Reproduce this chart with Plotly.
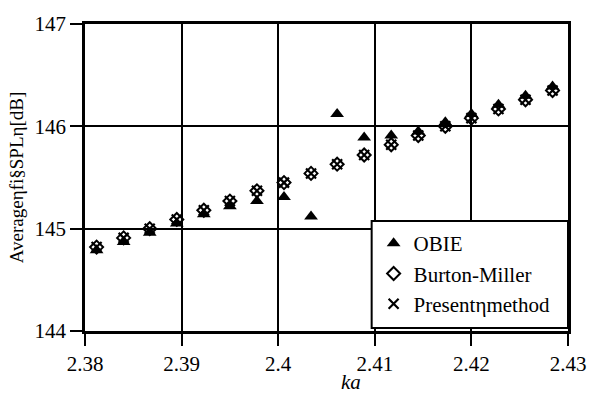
import plotly.graph_objects as go

ka = [2.3812, 2.3840, 2.3867, 2.3895, 2.3923, 2.3950, 2.3978, 2.4006, 2.4034,
      2.4061, 2.4089, 2.4117, 2.4145, 2.4173, 2.4200, 2.4228, 2.4256, 2.4284]
obie = [144.79, 144.87, 144.96, 145.05, 145.14, 145.22, 145.27, 145.31, 145.12,
        146.12, 145.89, 145.91, 145.95, 146.04, 146.12, 146.21, 146.30, 146.39]
burton_miller = [144.82, 144.91, 145.00, 145.09, 145.18, 145.27, 145.37, 145.45, 145.54,
                 145.63, 145.72, 145.82, 145.91, 146.00, 146.08, 146.17, 146.26, 146.35]
present = [144.82, 144.91, 145.00, 145.09, 145.18, 145.27, 145.37, 145.45, 145.54,
           145.63, 145.72, 145.82, 145.91, 146.00, 146.08, 146.17, 146.26, 146.35]
x_ticks = [2.38, 2.39, 2.40, 2.41, 2.42, 2.43]
x_tick_text = ["2.38", "2.39", "2.4", "2.41", "2.42", "2.43"]
y_ticks = [144, 145, 146, 147]

font_family = "Liberation Serif"
L, R, T, B = 85, 21, 21, 63
PW, PH = 598 - L - R, 394 - T - B

fig = go.Figure()
fig.add_trace(go.Scatter(
    x=ka, y=obie, mode="markers", name="OBIE",
    marker=dict(symbol="triangle-up", size=12, color="black", line=dict(width=0)),
))
fig.add_trace(go.Scatter(
    x=ka, y=burton_miller, mode="markers", name="Burton-Miller",
    marker=dict(symbol="diamond-open", size=10, color="black", line=dict(width=2, color="black")),
))
fig.add_trace(go.Scatter(
    x=ka, y=present, mode="markers", name="Presentηmethod",
    marker=dict(symbol="x-thin-open", size=10, color="black", line=dict(width=2.2, color="black")),
))

axis_common = dict(
    showline=True, linecolor="black", linewidth=2.5, mirror=True,
    showgrid=True, gridcolor="black", gridwidth=2,
    ticks="outside", ticklen=12, tickwidth=2, tickcolor="black",
    zeroline=False,
    tickfont=dict(family=font_family, size=21, color="black"),
)

fig.update_xaxes(range=[2.38, 2.43], tickvals=x_ticks, ticktext=x_tick_text, **axis_common)
fig.update_yaxes(range=[144, 147], tickvals=y_ticks,
                 title=dict(text="Averageηfi§SPLη[dB]", font=dict(family=font_family, size=19, color="black"), standoff=6),
                 **axis_common)

fig.add_annotation(
    text="<i>ka</i>", xref="paper", yref="paper", x=(356 - L) / PW, y=-(383 - 331) / PH,
    showarrow=False, font=dict(family=font_family, size=21, color="black"),
    xanchor="center", yanchor="middle",
)

# legend frame
fig.add_shape(
    type="rect", xref="paper", yref="paper",
    x0=(377 - L) / PW, x1=1.0, y0=(331 - 328) / PH, y1=(331 - 220) / PH,
    line=dict(color="black", width=2), fillcolor="white", layer="above",
)

fig.update_layout(
    width=598, height=394,
    margin=dict(l=L, r=R, t=T, b=B),
    paper_bgcolor="white", plot_bgcolor="white",
    showlegend=True,
    legend=dict(
        x=(379 - L) / PW, y=(331 - 222) / PH, xanchor="left", yanchor="top",
        bgcolor="rgba(0,0,0,0)", borderwidth=0,
        font=dict(family=font_family, size=21, color="black"),
        itemwidth=30,
    ),
)

fig.write_html("out.html")
